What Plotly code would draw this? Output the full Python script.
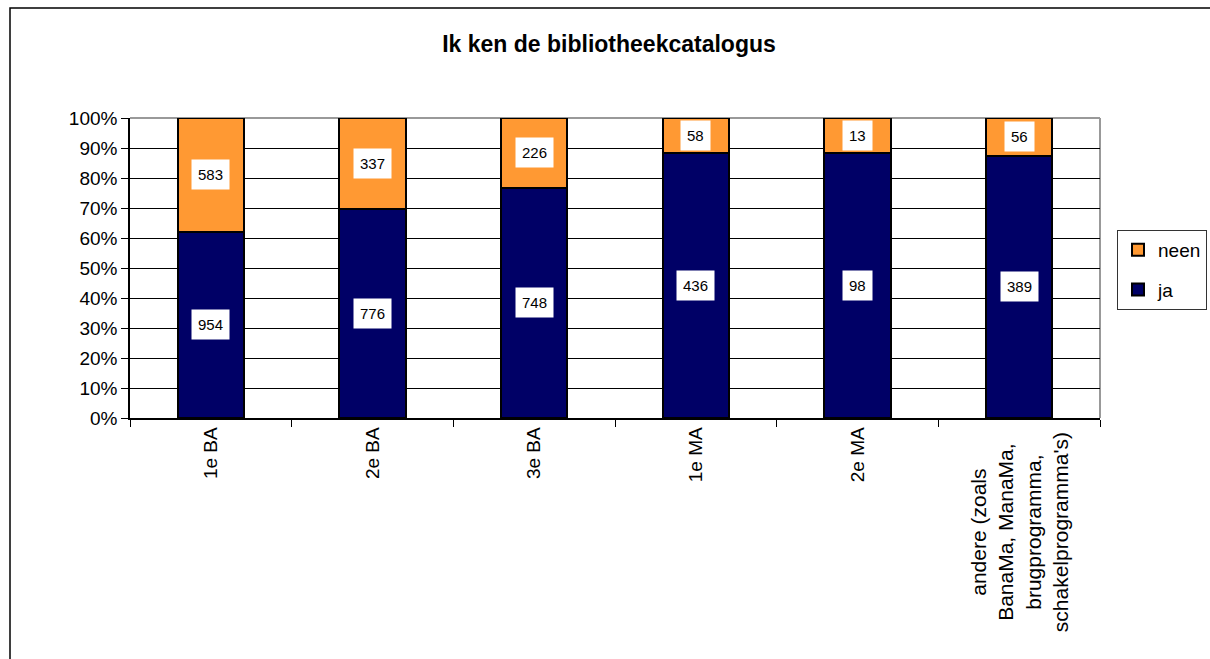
import plotly.graph_objects as go

categories = ["1e BA", "2e BA", "3e BA", "1e MA", "2e MA",
              "andere (zoals<br>BanaMa, ManaMa,<br>brugprogramma,<br>schakelprogramma's)"]
ja = [954, 776, 748, 436, 98, 389]
neen = [583, 337, 226, 58, 13, 56]

tot = [a + b for a, b in zip(ja, neen)]
ja_pct = [a / t * 100 for a, t in zip(ja, tot)]
neen_pct = [b / t * 100 for b, t in zip(neen, tot)]

FONT = "Liberation Sans, Arial, sans-serif"

fig = go.Figure()
fig.add_trace(go.Bar(x=categories, y=ja_pct, name="ja", legendgroup="ja", legendrank=2,
                     marker=dict(color="#000066", line=dict(color="black", width=2)),
                     width=0.41, hoverinfo="skip"))
fig.add_trace(go.Bar(x=categories, y=neen_pct, name="neen", legendgroup="neen", legendrank=1,
                     marker=dict(color="#FF9933", line=dict(color="black", width=2)),
                     width=0.41, hoverinfo="skip"))

annotations = []
for c, a, p in zip(categories, ja, ja_pct):
    annotations.append(dict(x=c, y=p / 2, xref="x", yref="y", text=str(a), showarrow=False,
                            bgcolor="white", borderpad=6, font=dict(size=15, color="black", family=FONT)))
for c, b, pa, pb in zip(categories, neen, ja_pct, neen_pct):
    annotations.append(dict(x=c, y=pa + pb / 2, xref="x", yref="y", text=str(b), showarrow=False,
                            bgcolor="white", borderpad=6, font=dict(size=15, color="black", family=FONT)))

# multi-line category label with centred lines (as in the reference)
tick_text = [c if "<br>" not in c else "" for c in categories]
for c in categories:
    if "<br>" in c:
        annotations.append(dict(x=c, y=0, xref="x", yref="paper", text=c, showarrow=False,
                                textangle=-90, align="center", xanchor="center", yanchor="top",
                                yshift=-12, font=dict(size=21, color="black", family=FONT)))

W, H = 1210, 659
L, R, T, B = 130, 1100, 118, 418
pw, ph = R - L, B - T

shapes = [
    # chart border (left & top visible)
    dict(type="rect", xref="paper", yref="paper",
         x0=(10 - L) / pw, x1=(1260 - L) / pw, y0=(B - 700) / ph, y1=(B - 8) / ph,
         line=dict(color="black", width=1.5), fillcolor="rgba(0,0,0,0)", layer="above"),
    # plot area top & right border (gray)
    dict(type="line", xref="paper", yref="paper", x0=0, x1=1, y0=1, y1=1,
         line=dict(color="#999999", width=2), layer="below"),
    dict(type="line", xref="paper", yref="paper", x0=1, x1=1, y0=0, y1=1,
         line=dict(color="#999999", width=2), layer="below"),
]

fig.update_layout(
    width=W, height=H,
    margin=dict(l=L, r=W - R, t=T, b=H - B, pad=0),
    barmode="stack", bargap=0.59,
    paper_bgcolor="white", plot_bgcolor="white",
    font=dict(family=FONT, color="black"),
    title=dict(text="<b>Ik ken de bibliotheekcatalogus</b>", x=(440 + 778) / 2 / W, xanchor="center",
               y=1 - 44 / H, yanchor="middle", yref="container",
               font=dict(size=23, family=FONT, color="black")),
    legend=dict(xref="container", yref="container", x=1117 / W, xanchor="left",
                y=1 - 230 / H, yanchor="top",
                traceorder="grouped", bordercolor="#333333", borderwidth=1,
                font=dict(size=19, family=FONT, color="black"), itemwidth=30,
                tracegroupgap=12, bgcolor="white"),
    xaxis=dict(type="category", showline=True, linecolor="black", linewidth=1.5,
               ticks="outside", tickson="boundaries", ticklen=7, tickcolor="black",
               tickangle=-90, tickfont=dict(size=19, family=FONT, color="black"),
               tickmode="array", tickvals=categories, ticktext=tick_text,
               showgrid=False, fixedrange=True),
    yaxis=dict(range=[0, 100], dtick=10, ticksuffix="%", showline=True, linecolor="black",
               linewidth=1.5, ticks="outside", ticklen=7, tickcolor="black",
               showgrid=True, gridcolor="black", gridwidth=1,
               tickfont=dict(size=19, family=FONT, color="black"), zeroline=False, fixedrange=True),
    annotations=annotations,
    shapes=shapes,
)

fig.write_html("out.html", config={"displayModeBar": False},
               post_script="document.body.style.margin='0';document.body.style.overflow='hidden';")
